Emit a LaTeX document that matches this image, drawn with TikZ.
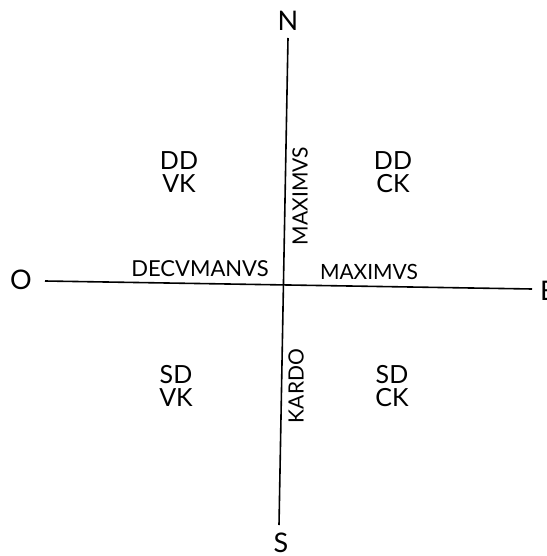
\documentclass[tikz,border=0pt]{standalone}
\usepackage{fontspec}
\setmainfont{Lato}
\begin{document}
\begin{tikzpicture}[x=1pt,y=-1pt,
  axis/.style={line width=1.6pt,black},
  big/.style={font=\fontsize{27}{27}\selectfont,inner sep=0pt},
  quad/.style={font=\fontsize{25}{25}\selectfont,inner sep=0pt},
  road/.style={font=\fontsize{21}{21}\selectfont,inner sep=0pt}]
\useasboundingbox (0,0) rectangle (546,556);
% axis ends
\coordinate (ntop) at (288,38);
\coordinate (sbot) at (279,525);
\coordinate (wend) at (45,281);
\coordinate (eend) at (532,289);
\draw[axis] (ntop) -- (sbot);
\draw[axis] (wend) -- (eend);
% cardinal letters
\node[big] (N) at (288,21) {N};
\node[big] (S) at (281,543) {S};
\node[big] (O) at (21,280) {O};
\node[big] (E) at (548,291) {E};
% quadrants
\node[quad] (nw1) at (179,161) {DD};
\node[quad] (nw2) at (179,184) {VK};
\node[quad] (ne1) at (393,161) {DD};
\node[quad] (ne2) at (393,184) {CK};
\node[quad] (sw1) at (176,375) {SD};
\node[quad] (sw2) at (176,398) {VK};
\node[quad] (se1) at (392,375) {SD};
\node[quad] (se2) at (392,398) {CK};
% road names
\node[road,font=\fontsize{22}{22}\selectfont] (dec) at (200,269) {DECVMANVS};
\node[road] (maxh) at (369,272) {MAXIMVS};
\node[road,rotate=90] (maxv) at (300,196) {MAXIMVS};
\node[road,rotate=90] (kardo) at (296,386) {KARDO};
\end{tikzpicture}
\end{document}
